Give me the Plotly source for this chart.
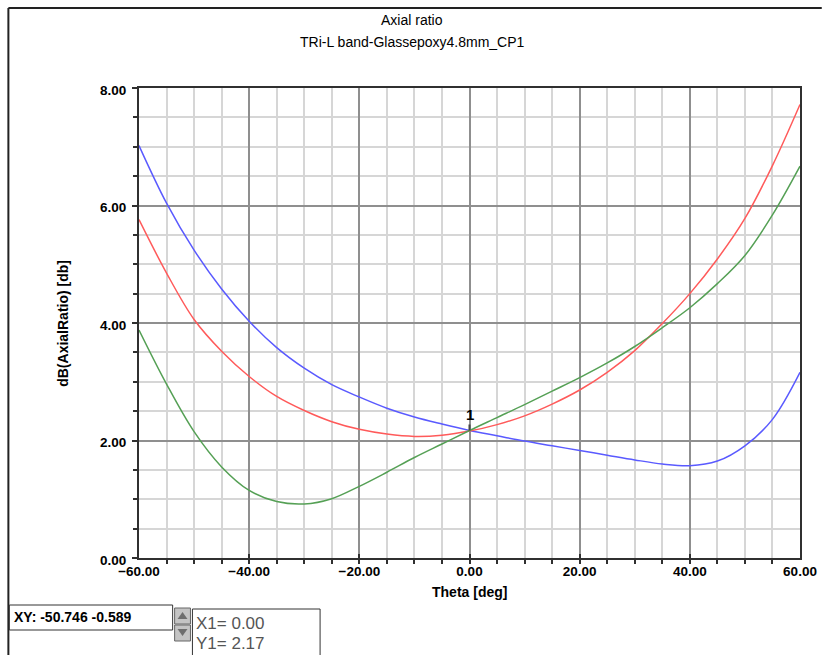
import plotly.graph_objects as go

# Axial ratio vs. theta for the three CP1 cuts
theta = [-60, -55, -50, -45, -40, -35, -30, -25, -20, -15, -10, -5, 0,
         5, 10, 15, 20, 25, 30, 35, 40, 45, 50, 55, 60]
ar_blue = [7.02, 6.04, 5.24, 4.58, 4.03, 3.58, 3.23, 2.95, 2.74, 2.55, 2.40, 2.28, 2.17,
           2.08, 1.99, 1.91, 1.83, 1.75, 1.67, 1.60, 1.57, 1.65, 1.91, 2.36, 3.16]
ar_red = [5.76, 4.85, 4.06, 3.52, 3.09, 2.75, 2.51, 2.32, 2.19, 2.11, 2.07, 2.09, 2.16,
          2.27, 2.42, 2.62, 2.86, 3.16, 3.53, 3.99, 4.50, 5.09, 5.78, 6.68, 7.72]
ar_green = [3.88, 2.96, 2.15, 1.55, 1.15, 0.96, 0.92, 1.01, 1.22, 1.46, 1.71, 1.94, 2.17,
            2.39, 2.61, 2.84, 3.07, 3.32, 3.60, 3.92, 4.26, 4.67, 5.15, 5.84, 6.67]

marker_x = 0.00
marker_y = 2.17
cursor_text = "XY: -50.746 -0.589"

title_main = "Axial ratio"
title_sub = "TRi-L band-Glassepoxy4.8mm_CP1"
x_title = "Theta [deg]"
y_title = "dB(AxialRatio) [db]"

FONT = "Liberation Sans, Arial, sans-serif"
W, H = 829, 655
L, R, T, B = 139, 22, 88, 97
PW, PH = W - L - R, H - T - B


def px(x):
    return (x - L) / PW


def py(y):
    return (T + PH - y) / PH


fig = go.Figure()
for ys, col in [(ar_blue, "#5a5aff"), (ar_red, "#ff5a5a"), (ar_green, "#55a055")]:
    fig.add_trace(go.Scatter(x=theta, y=ys, mode="lines",
                             line=dict(color=col, width=1.5, shape="spline", smoothing=1.0),
                             showlegend=False, hoverinfo="skip"))

axis_common = dict(
    showline=True, linecolor="#303030", linewidth=2, mirror=True,
    tickcolor="#303030", tickwidth=1.5,
    tickformat=".2f", zeroline=False,
    showgrid=True, gridcolor="#8f8f8f", gridwidth=1.5,
    tickfont=dict(family=FONT, size=13.5, color="black", weight="bold"),
)

fig.update_xaxes(range=[-60, 60], tickmode="linear", tick0=-60, dtick=20,
                 ticks="inside", ticklen=4,
                 minor=dict(dtick=5, showgrid=True, gridcolor="#d6d6d6", gridwidth=1.5,
                            ticks="outside", ticklen=4, tickcolor="#303030"),
                 **axis_common)
fig.update_yaxes(range=[0, 8], tickmode="linear", tick0=0, dtick=2,
                 ticks="outside", ticklen=5, ticklabelshift=2, ticklabelstandoff=3,
                 minor=dict(dtick=0.5, showgrid=True, gridcolor="#d6d6d6", gridwidth=1.5,
                            ticks="outside", ticklen=4, tickcolor="#303030"),
                 **axis_common)

shapes = [
    # outer frame
    dict(type="line", xref="paper", yref="paper", x0=px(7), x1=px(829), y0=py(8), y1=py(8),
         line=dict(color="#222222", width=2)),
    dict(type="line", xref="paper", yref="paper", x0=px(7), x1=px(7), y0=py(8), y1=py(655),
         line=dict(color="#222222", width=2)),
    # cursor readout box
    dict(type="rect", xref="paper", yref="paper", x0=px(8), x1=px(173), y0=py(605), y1=py(630),
         line=dict(color="#333333", width=1), fillcolor="white"),
    # scroll buttons
    dict(type="rect", xref="paper", yref="paper", x0=px(175), x1=px(191), y0=py(608), y1=py(624),
         line=dict(color="#666666", width=1), fillcolor="#c4c4c4"),
    dict(type="rect", xref="paper", yref="paper", x0=px(175), x1=px(191), y0=py(625), y1=py(641),
         line=dict(color="#666666", width=1), fillcolor="#c4c4c4"),
    dict(type="path", xref="paper", yref="paper",
         path=f"M {px(178)},{py(619)} L {px(188)},{py(619)} L {px(183)},{py(612)} Z",
         line=dict(width=0), fillcolor="#6e6e6e"),
    dict(type="path", xref="paper", yref="paper",
         path=f"M {px(178)},{py(629)} L {px(188)},{py(629)} L {px(183)},{py(636)} Z",
         line=dict(width=0), fillcolor="#6e6e6e"),
    # marker readout box
    dict(type="rect", xref="paper", yref="paper", x0=px(193), x1=px(322), y0=py(609), y1=py(660),
         line=dict(color="#333333", width=1), fillcolor="white"),
]


def label(text, x, y, size, bold=False, color="black", xanchor="center", angle=0):
    return dict(text=text, xref="paper", yref="paper", x=px(x), y=py(y),
                xanchor=xanchor, yanchor="middle", showarrow=False, textangle=angle,
                font=dict(family=FONT, size=size, color=color,
                          weight="bold" if bold else "normal"))


annotations = [
    label(title_main, 415, 20, 14),
    label(title_sub, 415, 42, 14),
    label(x_title, 473, 592, 14, bold=True),
    label(y_title, 62, 323, 14, bold=True, angle=-90),
    dict(text="1", x=marker_x, y=marker_y, xref="x", yref="y", showarrow=True,
         arrowhead=0, arrowwidth=2, arrowcolor="#444444", ax=0, ay=-16,
         font=dict(family=FONT, size=15, color="black", weight="bold")),
    label(cursor_text, 11, 617, 14, bold=True, xanchor="left"),
    label(f"X1= {marker_x:.2f}", 195, 623, 17, color="#555555", xanchor="left"),
    label(f"Y1= {marker_y:.2f}", 195, 643, 17, color="#555555", xanchor="left"),
]

fig.update_layout(
    width=W, height=H,
    margin=dict(l=L, r=R, t=T, b=B),
    paper_bgcolor="white", plot_bgcolor="white",
    shapes=shapes, annotations=annotations,
    font=dict(family=FONT),
)

fig.write_html("out.html")
